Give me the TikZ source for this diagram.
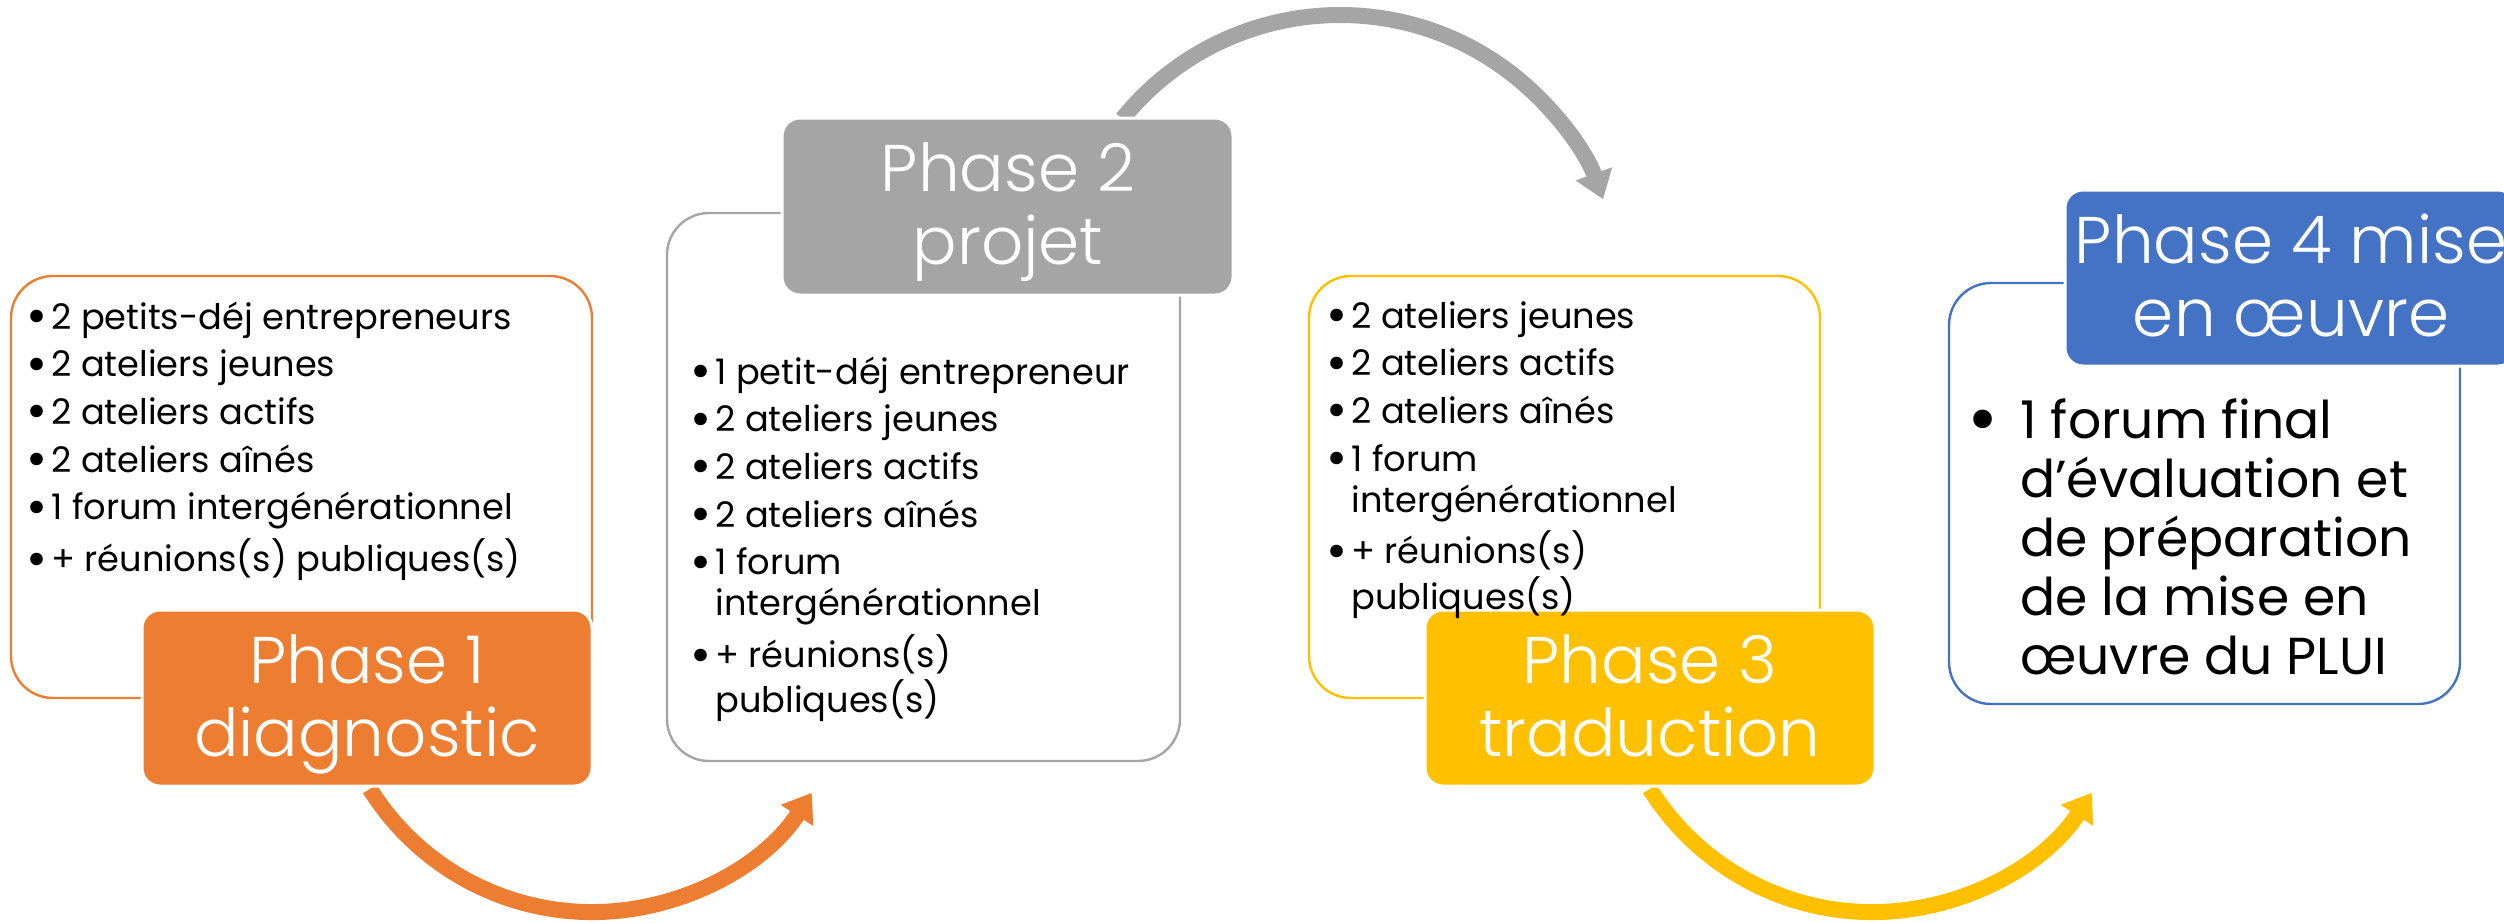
\documentclass[tikz,border=0pt]{standalone}
\usepackage{fontspec}
\setmainfont{Poppins}
\newfontfamily\titlefont{Poppins Light}
\usetikzlibrary{fit,arrows.meta}
\definecolor{orangeC}{HTML}{ED7D31}
\definecolor{grayC}{HTML}{A5A5A5}
\definecolor{yellowC}{HTML}{FFC000}
\definecolor{blueC}{HTML}{4472C4}
\newlength\bw
\newcommand\B{\makebox[\bw][l]{\raisebox{-0.13em}{\scalebox{1.45}{\textbullet}}}}
\tikzset{
  body/.style={draw, line width=1.2pt, rounded corners=21pt, inner sep=0pt},
  lab/.style={draw=white, line width=1.5pt, rounded corners=9pt, inner sep=0pt},
  ttl/.style={text=white, inner sep=0pt, anchor=base, font=\titlefont\fontsize{33}{36.5}\selectfont},
  txt/.style={inner sep=0pt, anchor=base west, font=\fontsize{17.6}{20.5}\selectfont\setlength\bw{12.5pt}},
  bigtxt/.style={inner sep=0pt, anchor=base west, font=\fontsize{26}{29.5}\selectfont\setlength\bw{26.5pt}},
  flow/.style={line width=8pt, -{Triangle[length=13.5pt,width=18.5pt]}},
}
\begin{document}
\begin{tikzpicture}[x=0.5pt,y=0.5pt]
\useasboundingbox (0,0) rectangle (2504,-922);
\clip (0,0) rectangle (2504,-922);
% arrows
\coordinate (a1) at (369.8,-788.9);
\coordinate (a2) at (1122.4,-118.8);
\coordinate (a3) at (1649.8,-788.9);
\draw[flow, orangeC] (a1) arc[start angle=212, end angle=327, radius=131pt];
\draw[flow, grayC] (a2) arc[start angle=141, end angle=20, radius=140pt];
\draw[flow, yellowC] (a3) arc[start angle=212, end angle=327, radius=131pt];
% phase 1
\node[body, draw=orangeC, fit={(11,-276)(592,-698)}] (b1) {};
\node[lab, fill=orangeC, fit={(142,-610)(592,-786)}] (l1) {};
\node[ttl] (n1) at (367,-683) {\begin{tabular}[t]{@{}c@{}}Phase 1\\diagnostic\end{tabular}};
\node[txt] (t1) at (26,-329) {\begin{tabular}[t]{@{}l@{}l@{}}
\B & 2 petits-déj entrepreneurs\\[3.35pt]
\B & 2 ateliers jeunes\\[3.35pt]
\B & 2 ateliers actifs\\[3.35pt]
\B & 2 ateliers aînés\\[3.35pt]
\B & 1 forum intergénérationnel\\[3.35pt]
\B & + réunions(s) publiques(s)
\end{tabular}};
% phase 2
\node[body, draw=grayC, fit={(667,-213)(1180,-761)}] (b2) {};
\node[lab, fill=grayC, fit={(782,-118)(1233,-295)}] (l2) {};
\node[ttl] (n2) at (1008,-191) {\begin{tabular}[t]{@{}c@{}}Phase 2\\projet\end{tabular}};
\node[txt] (t2) at (690,-384) {\begin{tabular}[t]{@{}l@{}l@{}}
\B & 1 petit-déj entrepreneur\\[3.35pt]
\B & 2 ateliers jeunes\\[3.35pt]
\B & 2 ateliers actifs\\[3.35pt]
\B & 2 ateliers aînés\\[3.35pt]
\B & 1 forum\\
   & intergénérationnel\\[3.35pt]
\B & + réunions(s)\\
   & publiques(s)
\end{tabular}};
% phase 3
\node[body, draw=yellowC, fit={(1309,-276)(1820,-698)}] (b3) {};
\node[lab, fill=yellowC, fit={(1425,-610)(1875,-786)}] (l3) {};
\node[ttl] (n3) at (1650,-683) {\begin{tabular}[t]{@{}c@{}}Phase 3\\traduction\end{tabular}};
\node[txt] (t3) at (1326,-328) {\begin{tabular}[t]{@{}l@{}l@{}}
\B & 2 ateliers jeunes\\[3.35pt]
\B & 2 ateliers actifs\\[3.35pt]
\B & 2 ateliers aînés\\[3.35pt]
\B & 1 forum\\
   & intergénérationnel\\[3.35pt]
\B & + réunions(s)\\
   & publiques(s)
\end{tabular}};
% phase 4
\node[body, draw=blueC, fit={(1949,-283)(2460,-704)}] (b4) {};
\node[lab, fill=blueC, fit={(2065,-190)(2516,-366)}] (l4) {};
\node[ttl] (n4) at (2291,-263) {\begin{tabular}[t]{@{}c@{}}Phase 4 mise\\en œuvre\end{tabular}};
\node[bigtxt] (t4) at (1967,-438) {\begin{tabular}[t]{@{}l@{}l@{}}
\B & 1 forum final\\
   & d’évaluation et\\
   & de préparation\\
   & de la mise en\\
   & œuvre du PLUI
\end{tabular}};
\end{tikzpicture}
\end{document}
